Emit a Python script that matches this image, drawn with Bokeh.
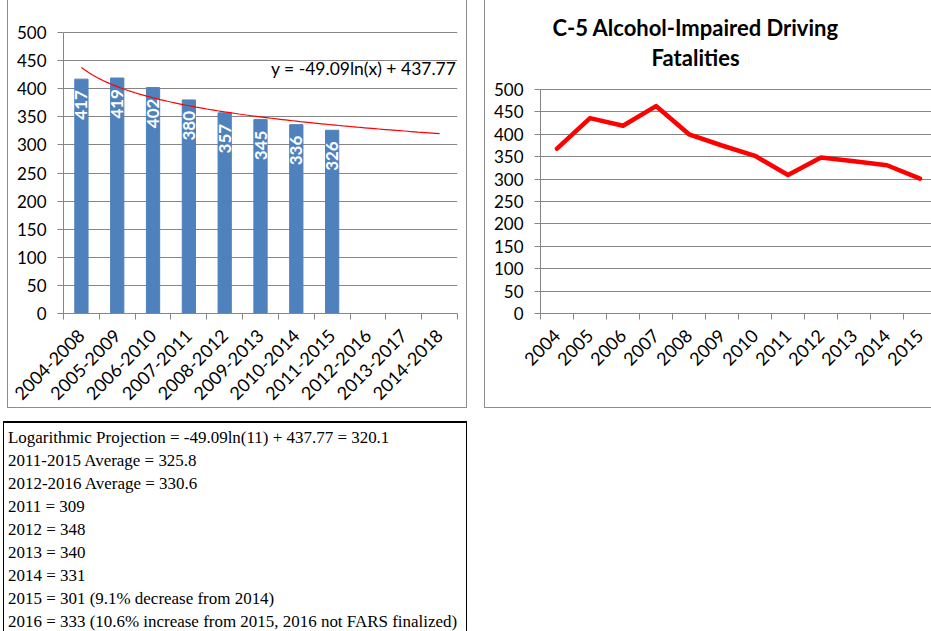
import math
from bokeh.plotting import figure
from bokeh.models import FixedTicker, Label, Div, Range1d, Spacer
from bokeh.layouts import column, row
from bokeh.embed import file_html
from bokeh.resources import INLINE
from bokeh.core.properties import value

# ---------------- data ----------------
periods = ["2004-2008", "2005-2009", "2006-2010", "2007-2011", "2008-2012",
           "2009-2013", "2010-2014", "2011-2015", "2012-2016", "2013-2017",
           "2014-2018"]
averages = [417, 419, 402, 380, 357, 345, 336, 326]
trend_slope = -49.09
trend_intercept = 437.77

years = ["2004", "2005", "2006", "2007", "2008", "2009", "2010", "2011",
         "2012", "2013", "2014", "2015"]
fatalities = [368, 436, 419, 463, 400, 375, 352, 309, 348, 340, 331, 301]

y_ticks = [0, 50, 100, 150, 200, 250, 300, 350, 400, 450, 500]

right_title = ["C-5 Alcohol-Impaired Driving", "Fatalities"]

notes = [
    "Logarithmic Projection = -49.09ln(11) + 437.77 = 320.1",
    "2011-2015 Average = 325.8",
    "2012-2016 Average = 330.6",
    "2011 = 309",
    "2012 = 348",
    "2013 = 340",
    "2014 = 331",
    "2015 = 301 (9.1% decrease from 2014)",
    "2016 = 333 (10.6% increase from 2015, 2016 not FARS finalized)",
]

# ---------------- styles ----------------
FONT = "Lato"
GRID = "#868686"
BAR = "#4F81BD"
FIG_H = 408          # figure height (chart box bottom edge)
BOTTOM = 95          # space below the plot area for the slanted labels


def style_axes(p, labels):
    n = len(labels)
    centers = [i + 0.5 for i in range(n)]
    xa = p.xaxis[0]
    xa.ticker = FixedTicker(ticks=centers, minor_ticks=list(range(n + 1)))
    xa.major_label_overrides = {c: lab for c, lab in zip(centers, labels)}
    xa.major_tick_out = 0
    xa.major_tick_in = 0
    xa.minor_tick_out = 6
    xa.minor_tick_in = 0
    xa.minor_tick_line_color = GRID
    xa.axis_line_color = GRID
    xa.major_label_orientation = math.pi / 4
    xa.major_label_text_font = FONT
    xa.major_label_text_font_size = "18px"
    xa.major_label_text_color = "black"
    xa.major_label_standoff = 13

    ya = p.yaxis[0]
    ya.ticker = FixedTicker(ticks=y_ticks)
    ya.bounds = (y_ticks[0], y_ticks[-1])
    ya.major_tick_out = 6
    ya.major_tick_in = 0
    ya.minor_tick_out = 0
    ya.minor_tick_in = 0
    ya.major_tick_line_color = GRID
    ya.axis_line_color = GRID
    ya.major_label_text_font = FONT
    ya.major_label_text_font_size = "17px"
    ya.major_label_text_color = "black"
    ya.major_label_standoff = 11

    p.xgrid.visible = False
    p.ygrid.ticker = FixedTicker(ticks=y_ticks)
    p.ygrid.grid_line_color = GRID
    p.ygrid.grid_line_width = 1
    p.outline_line_color = None
    p.border_fill_color = None
    p.background_fill_color = None


# ---------------- left chart ----------------
# plot area: 0 at y=313, 500 at y=32 -> extend range up to the canvas top
p1_top = 500 * 313 / (313 - 32)
p1 = figure(width=460, height=FIG_H, output_backend="svg", toolbar_location=None,
            x_range=Range1d(0, len(periods)), y_range=Range1d(0, p1_top),
            min_border_left=56, min_border_right=10, min_border_top=0,
            min_border_bottom=BOTTOM,
            styles={"box-shadow": "inset 1px 0 0 #8c8c8c, inset -1px 0 0 #8c8c8c, inset 0 -1px 0 #8c8c8c",
                    "background-color": "white"})
style_axes(p1, periods)

bar_x = [i + 0.5 for i in range(len(averages))]
p1.vbar(x=bar_x, top=averages, width=0.37, fill_color=BAR, line_color=BAR)
p1.text(x=bar_x, y=averages, text=[str(v) for v in averages], angle=math.pi / 2,
        text_align="right", text_baseline="middle", y_offset=11,
        text_color="white", text_font=value(FONT), text_font_style="bold",
        text_font_size="17px")

# trendline drawn from the chart's own equation
t_x = [1 + k * 0.1 for k in range(101)]
t_y = [trend_slope * math.log(t) + trend_intercept for t in t_x]
p1.line(x=[t - 0.5 for t in t_x], y=t_y, line_color="#FF0000", line_width=1.2)

p1.add_layout(Label(x=8.38, y=436,
                    text="y = %.2fln(x) + %.2f" % (trend_slope, trend_intercept),
                    text_align="center", text_baseline="middle", text_font=FONT,
                    text_font_size="17.5px", text_color="black"))

# ---------------- right chart ----------------
# plot area: 0 at y=313, 500 at y=89
p2_top = 500 * 313 / (313 - 89)
p2 = figure(width=447, height=FIG_H, output_backend="svg", toolbar_location=None,
            x_range=Range1d(0, 391 / 33), y_range=Range1d(0, p2_top),
            min_border_left=56, min_border_right=0, min_border_top=0,
            min_border_bottom=BOTTOM,
            styles={"box-shadow": "inset 1px 0 0 #8c8c8c, inset 0 -1px 0 #8c8c8c",
                    "background-color": "white"})
style_axes(p2, years)

yr_x = [i + 0.5 for i in range(len(years))]
p2.line(x=yr_x, y=fatalities, line_color="#FF0000", line_width=4.5,
        line_join="round", line_cap="round")

for txt, yv in zip(right_title, [638, 571]):
    p2.add_layout(Label(x=4.7, y=yv, text=txt, text_align="center",
                        text_baseline="middle", text_font=FONT,
                        text_font_style="bold", text_font_size="22px",
                        text_color="black"))

# ---------------- notes box ----------------
html = ("<div style=\"box-sizing:border-box; height:230px; width:464px; "
        "border-left:1.5px solid #000; border-right:1.5px solid #000; "
        "border-top:2px solid #000; padding:3px 0 0 4px; margin:0; "
        "color:#000;\">"
        "<div style=\"transform:scaleX(1.06); transform-origin:0 0; white-space:nowrap; "
        "font-family:'Liberation Serif','Times New Roman',serif; "
        "font-size:16px; line-height:23px;\">"
        + "<br>".join(notes) + "</div></div>")
box = Div(text=html, width=464, height=210, margin=0,
          styles={"overflow": "hidden"})

layout = column(
    row(Spacer(width=7, height=FIG_H), p1, Spacer(width=17, height=FIG_H), p2, spacing=0),
    row(Spacer(width=3, height=210), box, spacing=0),
    spacing=13,
    styles={"position": "absolute", "left": "0px", "top": "0px"},
)

open("out.html", "w").write(file_html(layout, INLINE))
